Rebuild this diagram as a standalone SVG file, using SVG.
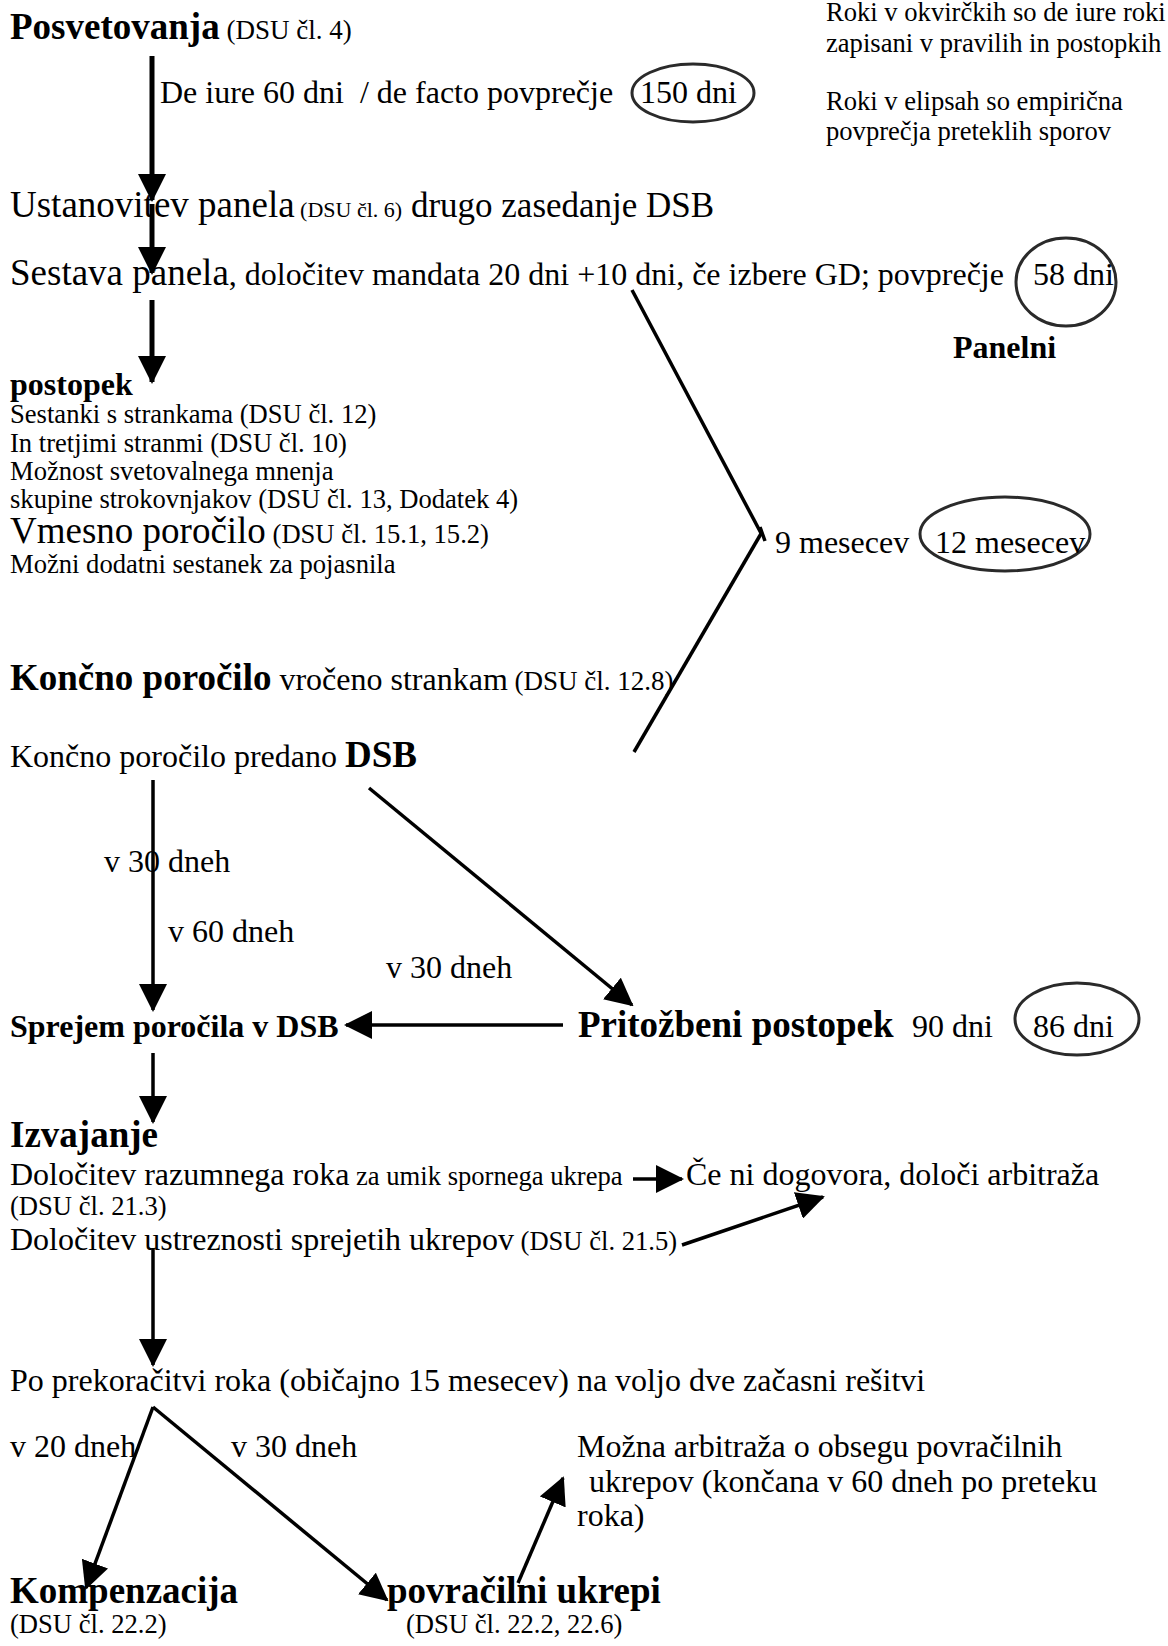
<svg xmlns="http://www.w3.org/2000/svg" width="1168" height="1646" viewBox="0 0 1168 1646">
<defs>
<marker id="ah" markerUnits="userSpaceOnUse" markerWidth="28" markerHeight="28" viewBox="0 0 28 28" refX="26" refY="14" orient="auto">
<path d="M0,0 L28,14 L0,28 z" fill="#000"/>
</marker>
</defs>
<style>
text{font-family:"Liberation Serif","Times New Roman",serif;fill:#000;font-size:32px}
.b{font-weight:bold}
.L{font-size:37px}
.s{font-size:26.6px}
.arr{stroke:#000;stroke-width:3.5;fill:none;marker-end:url(#ah)}
.thick{stroke-width:5}
.ln{stroke:#000;stroke-width:3.5;fill:none}
.ell{fill:none;stroke:#2a2a2a;stroke-width:3}
</style>
<rect width="1168" height="1646" fill="#fff"/>

<g id="connectors">
<line class="arr thick" x1="152" y1="56" x2="152" y2="200"/>
<line class="arr thick" x1="152" y1="204" x2="152" y2="273"/>
<line class="arr thick" x1="152" y1="300" x2="152" y2="382"/>
<line class="ln" x1="632" y1="290" x2="762" y2="535"/>
<line class="ln" x1="762" y1="532" x2="634" y2="752"/>
<line class="ln" x1="760" y1="527" x2="765" y2="541"/>
<line class="arr" x1="153" y1="780" x2="153" y2="1010"/>
<line class="arr" x1="369" y1="788" x2="632" y2="1005"/>
<line class="arr" x1="563" y1="1025" x2="346" y2="1025"/>
<line class="arr" x1="153" y1="1053" x2="153" y2="1122"/>
<line class="arr" x1="633" y1="1179" x2="682" y2="1179"/>
<line class="arr" x1="682" y1="1245" x2="823" y2="1197"/>
<line class="arr" x1="153" y1="1248" x2="153" y2="1365"/>
<line class="arr" x1="153" y1="1407" x2="86" y2="1588"/>
<line class="arr" x1="153" y1="1407" x2="387" y2="1600"/>
<line class="arr" x1="518" y1="1583" x2="563" y2="1478"/>
</g>

<g id="legend">
<text class="s" x="826" y="21">Roki v okvirčkih so de iure roki</text>
<text class="s" x="826" y="52">zapisani v pravilih in postopkih</text>
<text class="s" x="826" y="110">Roki v elipsah so empirična</text>
<text class="s" x="826" y="140">povprečja preteklih sporov</text>
</g>

<g id="posvetovanja">
<text x="10" y="39"><tspan class="b L">Posvetovanja</tspan><tspan style="font-size:27px"> (DSU čl. 4)</tspan></text>
</g>

<g id="rok-posvetovanja">
<text x="160" y="103">De iure 60 dni&#160; / de facto povprečje</text>
<ellipse class="ell" cx="693" cy="93" rx="61" ry="29"/>
<text x="640" y="103">150 dni</text>
</g>

<g id="ustanovitev">
<text x="10" y="217"><tspan class="L">Ustanovitev panela</tspan><tspan style="font-size:22px"> (DSU čl. 6)</tspan><tspan style="font-size:35px"> drugo zasedanje DSB</tspan></text>
</g>

<g id="sestava">
<text x="10" y="285"><tspan class="L">Sestava panela</tspan><tspan>, določitev mandata 20 dni +10 dni, če izbere GD; povprečje</tspan></text>
<ellipse class="ell" cx="1066" cy="282" rx="50" ry="44"/>
<text x="1033" y="285">58 dni</text>
</g>

<g id="panelni">
<text class="b" x="953" y="358">Panelni</text>
</g>

<g id="postopek">
<text class="b" x="10" y="395">postopek</text>
<text class="s" x="10" y="423">Sestanki s strankama (DSU čl. 12)</text>
<text class="s" x="10" y="452">In tretjimi stranmi (DSU čl. 10)</text>
<text class="s" x="10" y="480">Možnost svetovalnega mnenja</text>
<text class="s" x="10" y="508">skupine strokovnjakov (DSU čl. 13, Dodatek 4)</text>
<text x="10" y="543"><tspan class="L">Vmesno poročilo</tspan><tspan class="s"> (DSU čl. 15.1, 15.2)</tspan></text>
<text class="s" x="10" y="573">Možni dodatni sestanek za pojasnila</text>
</g>

<g id="rok-panel">
<text x="775" y="553">9 mesecev</text>
<ellipse class="ell" cx="1005" cy="534" rx="85" ry="37"/>
<text x="935" y="553">12 mesecev</text>
</g>

<g id="koncno-porocilo">
<text x="10" y="690"><tspan class="b L">Končno poročilo</tspan><tspan> vročeno strankam</tspan><tspan style="font-size:27px"> (DSU čl. 12.8)</tspan></text>
</g>

<g id="predano-dsb">
<text x="10" y="767"><tspan>Končno poročilo predano </tspan><tspan class="b L">DSB</tspan></text>
</g>

<g id="roki-dsb">
<text x="104" y="872">v 30 dneh</text>
<text x="168" y="942">v 60 dneh</text>
<text x="386" y="978">v 30 dneh</text>
</g>

<g id="sprejem">
<text class="b" x="10" y="1037">Sprejem poročila v DSB</text>
</g>

<g id="pritozbeni">
<text class="b L" x="578" y="1037">Pritožbeni postopek</text>
<text x="912" y="1037">90 dni</text>
<ellipse class="ell" cx="1077" cy="1019" rx="62" ry="36"/>
<text x="1033" y="1037">86 dni</text>
</g>

<g id="izvajanje">
<text class="b L" x="10" y="1147">Izvajanje</text>
<text x="10" y="1185"><tspan>Določitev razumnega roka</tspan><tspan class="s"> za umik spornega ukrepa</tspan></text>
<text class="s" x="10" y="1215">(DSU čl. 21.3)</text>
<text x="10" y="1250"><tspan>Določitev ustreznosti sprejetih ukrepov</tspan><tspan class="s"> (DSU čl. 21.5)</tspan></text>
</g>

<g id="arbitraza">
<text x="686" y="1185">Če ni dogovora, določi arbitraža</text>
</g>

<g id="prekoracitev">
<text x="10" y="1391">Po prekoračitvi roka (običajno 15 mesecev) na voljo dve začasni rešitvi</text>
<text x="10" y="1457">v 20 dneh</text>
<text x="231" y="1457">v 30 dneh</text>
</g>

<g id="arbitraza-obseg">
<text x="577" y="1457">Možna arbitraža o obsegu povračilnih</text>
<text x="589" y="1492">ukrepov (končana v 60 dneh po preteku</text>
<text x="577" y="1526">roka)</text>
</g>

<g id="kompenzacija">
<text class="b L" x="10" y="1603">Kompenzacija</text>
<text class="s" x="10" y="1633">(DSU čl. 22.2)</text>
</g>

<g id="povracilni">
<text class="b L" x="387" y="1603">povračilni ukrepi</text>
<text class="s" x="406" y="1633">(DSU čl. 22.2, 22.6)</text>
</g>
</svg>
